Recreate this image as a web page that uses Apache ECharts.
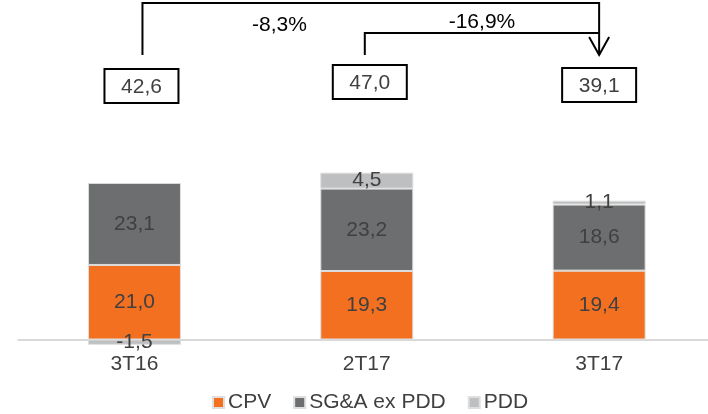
<!DOCTYPE html>
<html>
<head>
<meta charset="utf-8">
<style>
  html, body { margin: 0; padding: 0; background: #fff; }
  #chart { width: 708px; height: 414px; }
</style>
<script src="https://cdn.jsdelivr.net/npm/echarts@6/dist/echarts.min.js"></script>
</head>
<body>
<div id="chart"></div>
<script>
// Quarterly cost breakdown (R$ mn)
const categories = ['3T16', '2T17', '3T17'];
const cpv = [21.0, 19.3, 19.4];
const sgaExPdd = [23.1, 23.2, 18.6];
const pdd = [-1.5, 4.5, 1.1];
const seriesNames = ['CPV', 'SG&A ex PDD', 'PDD'];
// Change of 3T17 against 3T16 and 2T17 (%)
const changes = [-8.3, -16.9];

const totals = categories.map((_, i) => cpv[i] + sgaExPdd[i] + pdd[i]);
const fmt = v => v.toFixed(1).replace('.', ',');

const FONT = "'Liberation Sans', Arial, sans-serif";
const FS = 21;
const TEXT = '#404040';
const colors = ['#F37021', '#6D6E70', '#BEBFC1'];

const chart = echarts.init(document.getElementById('chart'), null, { renderer: 'canvas' });

const mkSeries = (name, data, color) => ({
  name,
  type: 'bar',
  stack: 'cost',
  data,
  barWidth: 93,
  clip: false,
  itemStyle: { color, borderColor: '#dedede', borderWidth: 1 },
  label: {
    show: true,
    position: 'inside',
    formatter: p => fmt(p.value),
    color: TEXT,
    fontSize: FS,
    fontFamily: FONT
  }
});

chart.setOption({
  animation: false,
  textStyle: { fontFamily: FONT },
  grid: {
    left: 18.3, width: 697, top: 162, height: 177.5,
    containLabel: false,
    outerBoundsMode: 'none'
  },
  xAxis: {
    type: 'category',
    data: categories,
    axisLine: { lineStyle: { color: '#d9d9d9', width: 2 } },
    axisTick: { show: false },
    axisLabel: { color: TEXT, fontSize: FS, fontFamily: FONT, margin: 14 }
  },
  yAxis: {
    type: 'value',
    min: 0,
    max: 50,
    show: false,
    splitLine: { show: false }
  },
  legend: {
    data: seriesNames,
    left: 212,
    top: 392,
    padding: 0,
    icon: 'rect',
    itemWidth: 11,
    itemHeight: 11,
    itemGap: 22,
    textStyle: { color: TEXT, fontSize: FS, fontFamily: FONT, padding: [0, 0, 0, -1] }
  },
  series: [
    mkSeries(seriesNames[0], cpv, colors[0]),
    mkSeries(seriesNames[1], sgaExPdd, colors[1]),
    mkSeries(seriesNames[2], pdd, colors[2])
  ]
});

// Total boxes and change brackets above the bars
const cx = categories.map((_, i) => chart.convertToPixel({ xAxisIndex: 0 }, i));
const boxDx = [7, 3, 0];
const boxTop = [69, 65, 68];
const boxW = 74, boxH = 34;
const graphics = [];

categories.forEach((c, i) => {
  const x = cx[i] + boxDx[i];
  graphics.push({
    type: 'rect',
    shape: { x: x - boxW / 2, y: boxTop[i], width: boxW, height: boxH },
    style: { fill: '#fff', stroke: '#000', lineWidth: 2 }
  });
  graphics.push({
    type: 'text',
    x: x,
    y: boxTop[i] + boxH / 2 + 1,
    style: {
      text: fmt(totals[i]),
      fill: TEXT,
      font: FS + 'px ' + FONT,
      align: 'center',
      verticalAlign: 'middle'
    }
  });
});

const xFrom0 = cx[0] + 8;
const xFrom1 = cx[1] - 2;
const xTo = cx[2];
const lineStyle = { stroke: '#000', lineWidth: 2, fill: null };

graphics.push({
  type: 'polyline',
  shape: { points: [[xFrom0, 55], [xFrom0, 3], [xTo, 3], [xTo, 55]] },
  style: lineStyle
});
graphics.push({
  type: 'polyline',
  shape: { points: [[xFrom1, 55], [xFrom1, 33], [xTo, 33]] },
  style: lineStyle
});
graphics.push({
  type: 'polyline',
  shape: { points: [[xTo - 10, 37], [xTo, 55], [xTo + 10, 37]] },
  style: lineStyle
});
graphics.push({
  type: 'text',
  x: xFrom0 + 137,
  y: 25,
  style: { text: fmt(changes[0]) + '%', fill: '#000', font: FS + 'px ' + FONT, align: 'center', verticalAlign: 'middle' }
});
graphics.push({
  type: 'text',
  x: (xFrom1 + xTo) / 2,
  y: 22,
  style: { text: fmt(changes[1]) + '%', fill: '#000', font: FS + 'px ' + FONT, align: 'center', verticalAlign: 'middle' }
});

chart.setOption({ graphic: graphics });
</script>
</body>
</html>
